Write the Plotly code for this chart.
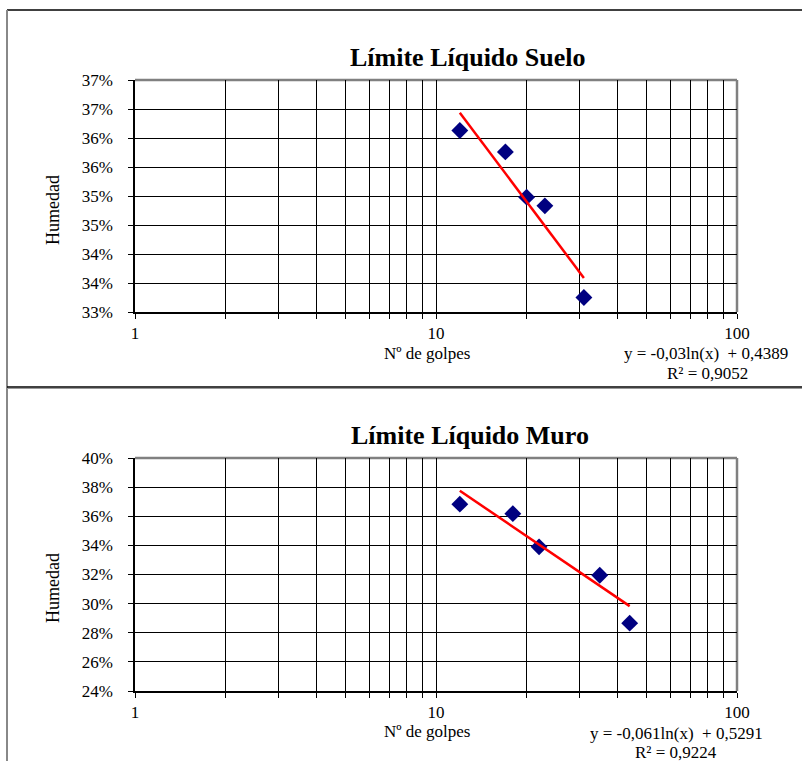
import math
import plotly.graph_objects as go

# ---------------- data ----------------
SUELO_GOLPES = [12, 17, 20, 23, 31]
SUELO_HUMEDAD = [0.3613, 0.3576, 0.3498, 0.3483, 0.3325]
SUELO_SLOPE = -0.03
SUELO_INTERCEPT = 0.4389
SUELO_EQ = "y = -0,03ln(x)  + 0,4389"
SUELO_R2 = "R² = 0,9052"

MURO_GOLPES = [12, 18, 22, 35, 44]
MURO_HUMEDAD = [0.3683, 0.3618, 0.3390, 0.3195, 0.2866]
MURO_SLOPE = -0.061
MURO_INTERCEPT = 0.5291
MURO_EQ = "y = -0,061ln(x)  + 0,5291"
MURO_R2 = "R² = 0,9224"

X_TICKS = [1, 2, 3, 4, 5, 6, 7, 8, 9, 10, 20, 30, 40, 50, 60, 70, 80, 90, 100]
X_TICK_LABELS = ["1", "", "", "", "", "", "", "", "", "10", "", "", "", "", "", "", "", "", "100"]

Y1_TICKS = [0.33, 0.335, 0.34, 0.345, 0.35, 0.355, 0.36, 0.365, 0.37]
Y1_TICK_LABELS = ["33%", "34%", "34%", "35%", "35%", "36%", "36%", "37%", "37%"]

Y2_TICKS = [0.24, 0.26, 0.28, 0.30, 0.32, 0.34, 0.36, 0.38, 0.40]
Y2_TICK_LABELS = ["24%", "26%", "28%", "30%", "32%", "34%", "36%", "38%", "40%"]

TITLE1 = "Límite Líquido Suelo"
TITLE2 = "Límite Líquido Muro"
X_TITLE = "Nº de golpes"
Y_TITLE = "Humedad"

# ---------------- layout helpers ----------------
W, H = 802, 761
FONT = "Liberation Serif, Times New Roman, serif"


def px(x):
    return x / W


def py(y):
    return 1 - y / H


fig = go.Figure()


def trend(xs, a, b):
    x0, x1 = min(xs), max(xs)
    return [x0, x1], [a * math.log(x0) + b, a * math.log(x1) + b]


tx1, ty1 = trend(SUELO_GOLPES, SUELO_SLOPE, SUELO_INTERCEPT)
tx2, ty2 = trend(MURO_GOLPES, MURO_SLOPE, MURO_INTERCEPT)

marker = dict(symbol="diamond", size=13, color="#000080", line=dict(width=0))

fig.add_trace(go.Scatter(x=SUELO_GOLPES, y=SUELO_HUMEDAD, mode="markers", marker=marker,
                         xaxis="x", yaxis="y", showlegend=False))
fig.add_trace(go.Scatter(x=tx1, y=ty1, mode="lines", line=dict(color="#FF0000", width=2.5),
                         xaxis="x", yaxis="y", showlegend=False))
fig.add_trace(go.Scatter(x=MURO_GOLPES, y=MURO_HUMEDAD, mode="markers", marker=marker,
                         xaxis="x2", yaxis="y2", showlegend=False))
fig.add_trace(go.Scatter(x=tx2, y=ty2, mode="lines", line=dict(color="#FF0000", width=2.5),
                         xaxis="x2", yaxis="y2", showlegend=False))

P1 = dict(left=135, right=737, top=80, bottom=312)
P2 = dict(left=135, right=737, top=458, bottom=691)

tickfont = dict(family=FONT, size=17, color="black")


def xaxis_cfg(p, anchor):
    return dict(domain=[px(p["left"]), px(p["right"])], anchor=anchor, type="log", range=[0, 2],
                tickmode="array", tickvals=X_TICKS, ticktext=X_TICK_LABELS,
                showgrid=True, gridcolor="#000000", gridwidth=1,
                ticks="outside", ticklen=5, tickcolor="black", tickwidth=1,
                showline=True, linecolor="black", linewidth=1.5, zeroline=False,
                tickfont=tickfont, ticklabelstandoff=0, automargin=False, fixedrange=True)


def yaxis_cfg(p, anchor, rng, vals, labels):
    return dict(domain=[py(p["bottom"]), py(p["top"])], anchor=anchor, range=rng,
                tickmode="array", tickvals=vals, ticktext=labels,
                showgrid=True, gridcolor="#000000", gridwidth=1,
                ticks="outside", ticklen=5, tickcolor="black", tickwidth=1,
                showline=True, linecolor="black", linewidth=1.5, zeroline=False,
                tickfont=tickfont, ticklabelstandoff=12, automargin=False, fixedrange=True)


annotations = []


def text(x, y, s, size=17, bold=False, angle=0, xanchor="center"):
    annotations.append(dict(x=px(x), y=py(y), xref="paper", yref="paper",
                            text=(f"<b>{s}</b>" if bold else s),
                            showarrow=False, xanchor=xanchor, yanchor="middle", textangle=angle,
                            borderpad=0,
                            font=dict(family=FONT, size=size, color="black")))


text(468, 58, TITLE1, size=26, bold=True)
text(427, 353, X_TITLE)
text(53, 210, Y_TITLE, size=18, angle=-90)
text(706, 354, SUELO_EQ)
text(707, 374, SUELO_R2)

text(470, 435, TITLE2, size=26, bold=True)
text(427, 731, X_TITLE)
text(53, 588, Y_TITLE, size=18, angle=-90)
text(676, 733, MURO_EQ)
text(676, 752, MURO_R2)

shapes = []


def line(x0, y0, x1, y1, color, width, layer="above"):
    shapes.append(dict(type="line", xref="paper", yref="paper", x0=px(x0), y0=py(y0), x1=px(x1), y1=py(y1),
                       line=dict(color=color, width=width), layer=layer))


# outer frame
line(7, 10, 802, 10, "#000000", 1.5)
line(7, 10, 7, 761, "#888888", 2)
line(7, 387, 802, 387, "#000000", 1.5)
line(7, 388.5, 802, 388.5, "#999999", 1)

# plot area grey border (top/right)
for p in (P1, P2):
    line(p["left"], p["top"], p["right"], p["top"], "#808080", 2.5, "between")
    line(p["right"], p["top"], p["right"], p["bottom"], "#808080", 2.5, "between")

fig.update_layout(
    template="none",
    width=W, height=H, margin=dict(l=0, r=0, t=0, b=0, pad=0),
    paper_bgcolor="white", plot_bgcolor="white",
    xaxis=xaxis_cfg(P1, "y"),
    yaxis=yaxis_cfg(P1, "x", [0.33, 0.37], Y1_TICKS, Y1_TICK_LABELS),
    xaxis2=xaxis_cfg(P2, "y2"),
    yaxis2=yaxis_cfg(P2, "x2", [0.24, 0.40], Y2_TICKS, Y2_TICK_LABELS),
    annotations=annotations, shapes=shapes, showlegend=False,
)

fig.write_html(
    "out.html",
    config={"displayModeBar": False},
    post_script=(
        "document.documentElement.style.margin='0';document.documentElement.style.padding='0';"
        "document.body.style.margin='0';document.body.style.padding='0';"
        "document.documentElement.style.overflow='hidden';document.body.style.overflow='hidden';"
        "var d=document.getElementById('{plot_id}');d.style.position='fixed';d.style.left='0px';d.style.top='0px';"
    ),
)
